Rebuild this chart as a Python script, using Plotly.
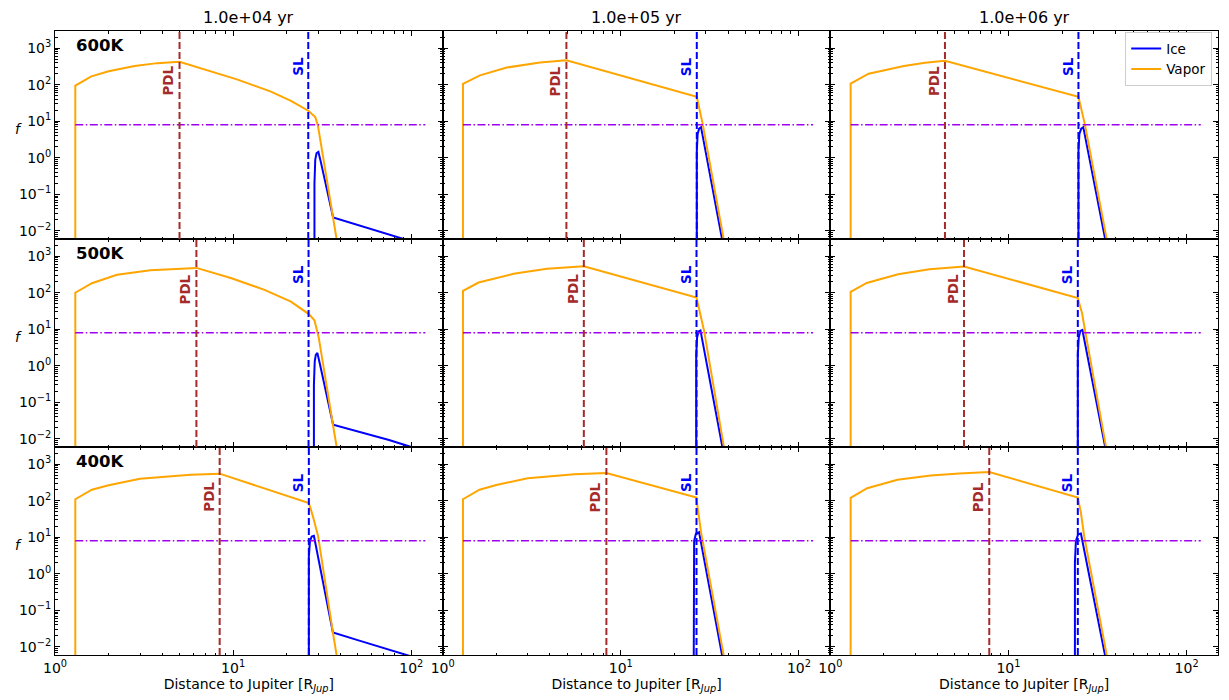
import numpy as np
import plotly.graph_objects as go
from plotly.subplots import make_subplots

# Panel labels
TEMPS = ["600K", "500K", "400K"]
TIMES = ["1.0e+04 yr", "1.0e+05 yr", "1.0e+06 yr"]

# Photodesorption line and snow line positions [R_Jup], rows = temperature, cols = time
PDL_R = [[5.0, 4.95, 4.4], [6.22, 6.2, 5.63], [8.4, 8.3, 7.8]]
SL_R = [[26.4, 26.7, 24.7], [26.5, 26.6, 24.5], [26.6, 26.6, 24.5]]

# Threshold line
F_CRIT = 8.0
CRIT_R = [1.3, 120]

# Vapor profiles
VAP_R_600K = [
    [1.3, 1.3, 1.6, 2.0, 2.8, 3.75, 5.0, 6.9, 10.6, 16.3, 21.1, 26.4, 28.9, 29.9, 36.4, 40],
    [1.3, 1.3, 1.62, 2.29, 3.52, 4.95, 26.7, 28.8, 40],
    [1.3, 1.3, 1.64, 2.59, 3.4, 4.4, 24.7, 26.8, 40],
]
VAP_F_600K = [
    [1e-4, 95, 170, 235, 325, 390, 425, 265, 138, 65, 36, 19.5, 13, 7.7, 0.022, 0.0014],
    [1e-4, 105, 180, 295, 405, 470, 47, 8.5, 0.0013],
    [1e-4, 107, 200, 325, 400, 450, 47, 8.5, 0.0003],
]
VAP_R_500K = [
    [1.3, 1.3, 1.61, 2.23, 3.43, 4.6, 6.22, 9.7, 15, 21.1, 26.6, 28.6, 30.2, 36.4, 40],
    [1.3, 1.3, 1.59, 2.5, 3.85, 6.2, 26.6, 28.0, 29.3, 40],
    [1.3, 1.3, 1.6, 2.4, 3.6, 5.63, 24.5, 25.9, 26.9, 40],
]
VAP_F_500K = [
    [1e-4, 100, 182, 310, 410, 450, 478, 252, 120, 57, 26, 17.7, 6.1, 0.023, 0.0015],
    [1e-4, 112, 190, 330, 455, 530, 74, 27, 9.3, 0.0013],
    [1e-4, 105, 185, 320, 440, 520, 72, 27, 9.3, 0.0002],
]
VAP_R_400K = [
    [1.3, 1.3, 1.61, 2.0, 3.0, 5.77, 8.4, 26.6, 28.0, 30.0, 36.3, 40],
    [1.3, 1.3, 1.61, 2.0, 3.0, 5.5, 8.3, 26.6, 27.0, 28.2, 40],
    [1.3, 1.3, 1.61, 2.38, 3.66, 5.3, 7.8, 24.5, 25.5, 26.6, 40],
]
VAP_F_400K = [
    [1e-4, 110, 200, 265, 400, 515, 550, 87, 38, 10.6, 0.025, 0.0014],
    [1e-4, 110, 200, 270, 410, 530, 570, 123, 65, 13.8, 0.0013],
    [1e-4, 120, 220, 375, 490, 560, 610, 123, 47, 10.7, 0.0003],
]

# Ice profiles
ICE_R_600K = [
    [28.6, 28.6, 28.9, 29.4, 30.1, 31.0, 36.4, 46, 65, 100],
    [26.7, 26.7, 27.0, 27.5, 28.2, 40],
    [24.7, 24.7, 25.0, 25.6, 26.3, 40],
]
ICE_F_600K = [
    [1e-4, 0.2, 0.9, 1.35, 1.45, 0.8, 0.0235, 0.0166, 0.0099, 0.0052],
    [1e-4, 1.5, 4.5, 6.3, 6.9, 0.0008],
    [1e-4, 1.5, 4.5, 6.3, 6.9, 0.0002],
]
ICE_R_500K = [
    [28.4, 28.4, 28.7, 29.1, 29.7, 30.6, 36.4, 52.5, 75, 100],
    [26.5, 26.5, 26.8, 27.3, 28.0, 40],
    [24.5, 24.5, 24.8, 25.3, 26.0, 40],
]
ICE_F_500K = [
    [1e-4, 0.3, 1.3, 2.0, 2.25, 1.2, 0.0244, 0.0148, 0.0094, 0.006],
    [1e-4, 2, 6, 8.7, 9.3, 0.0009],
    [1e-4, 2, 6, 9.0, 9.6, 0.0002],
]
ICE_R_400K = [
    [26.6, 26.6, 27.0, 27.6, 28.4, 36.3, 50, 70, 100],
    [25.6, 25.6, 25.8, 26.4, 27.5, 40],
    [23.6, 23.6, 23.9, 24.6, 25.5, 40],
]
ICE_F_400K = [
    [1e-4, 3, 8, 10.5, 11, 0.025, 0.0154, 0.0093, 0.0055],
    [1e-4, 2, 8, 12.5, 13.7, 0.0008],
    [1e-4, 2, 8, 12, 12.6, 0.0002],
]

VAP_R = [VAP_R_600K, VAP_R_500K, VAP_R_400K]
VAP_F = [VAP_F_600K, VAP_F_500K, VAP_F_400K]
ICE_R = [ICE_R_600K, ICE_R_500K, ICE_R_400K]
ICE_F = [ICE_F_600K, ICE_F_500K, ICE_F_400K]

FONT = "DejaVu Sans"

fig = make_subplots(rows=3, cols=3, horizontal_spacing=0, vertical_spacing=0)

for i, temp in enumerate(TEMPS):
    for j, tlabel in enumerate(TIMES):
        row, col = i + 1, j + 1
        first = (i == 0 and j == 0)

        # Ice and vapor curves
        fig.add_trace(
            go.Scatter(
                x=ICE_R[i][j], y=ICE_F[i][j], mode='lines',
                line=dict(color='#0000ff', width=2),
                name='Ice', legendgroup='ice', showlegend=first,
            ),
            row=row, col=col,
        )
        fig.add_trace(
            go.Scatter(
                x=VAP_R[i][j], y=VAP_F[i][j], mode='lines',
                line=dict(color='#ffa500', width=2),
                name='Vapor', legendgroup='vapor', showlegend=first,
            ),
            row=row, col=col,
        )
        # Threshold line
        fig.add_trace(
            go.Scatter(
                x=CRIT_R, y=[F_CRIT, F_CRIT], mode='lines',
                line=dict(color='#a000f0', width=1.5, dash='8px,2.5px,1.5px,2.5px'),
                showlegend=False, hoverinfo='skip',
            ),
            row=row, col=col,
        )

        # PDL and SL markers
        fig.add_vline(x=PDL_R[i][j], line=dict(color='#a52a2a', width=2, dash='7px,3px'),
                      row=row, col=col)
        fig.add_vline(x=SL_R[i][j], line=dict(color='#0000ff', width=2, dash='7px,3px'),
                      row=row, col=col)
        fig.add_annotation(
            text='<b>PDL</b>', x=np.log10(PDL_R[i][j]), y=2.1, textangle=-90,
            xshift=-11, showarrow=False,
            font=dict(family=FONT, size=13.5, color='#a52a2a'),
            row=row, col=col,
        )
        fig.add_annotation(
            text='<b>SL</b>', x=np.log10(SL_R[i][j]), y=2.5, textangle=-90,
            xshift=-10, showarrow=False,
            font=dict(family=FONT, size=13.5, color='#0000ff'),
            row=row, col=col,
        )

        if i == 0:
            fig.add_annotation(
                text=tlabel, xref='x domain', yref='y domain', x=0.5, y=1,
                yanchor='bottom', yshift=2, showarrow=False,
                font=dict(family=FONT, size=16, color='black'),
                row=row, col=col,
            )
        if j == 0:
            fig.add_annotation(
                text='<b>%s</b>' % temp, xref='x domain', yref='y domain',
                x=0.05, y=0.985, xanchor='left', yanchor='top', showarrow=False,
                font=dict(family=FONT, size=16.5, color='black'),
                row=row, col=col,
            )
            fig.add_annotation(
                text='<i>f</i>', xref='x domain', yref='y domain',
                x=-0.108, y=0.53, showarrow=False,
                font=dict(family=FONT, size=14, color='black'),
                row=row, col=col,
            )

# Axes
x_major = [1, 10, 100]
x_text = ['10<sup>0</sup>', '10<sup>1</sup>', '10<sup>2</sup>']
x_minor = [m * 10 ** e for e in range(0, 3) for m in range(2, 10)]
y_major = [1e-2, 1e-1, 1, 10, 100, 1000]
y_text = ['10<sup>\u22122</sup>', '10<sup>\u22121</sup>', '10<sup>0</sup>',
          '10<sup>1</sup>', '10<sup>2</sup>', '10<sup>3</sup>']
y_minor = [m * 10 ** e for e in range(-3, 4) for m in range(2, 10)]

fig.update_xaxes(
    type='log', range=[0, np.log10(150)], automargin=False,
    showline=True, linecolor='black', linewidth=1, mirror='allticks',
    ticks='inside', ticklen=5, tickcolor='black', tickwidth=1,
    tickvals=x_major, ticktext=x_text, showgrid=False, zeroline=False,
    minor=dict(ticks='inside', ticklen=2.5, tickcolor='black', tickvals=x_minor, showgrid=False),
    tickfont=dict(family=FONT, size=14, color='black'),
    showticklabels=False,
)
fig.update_yaxes(
    type='log', range=[-2.22, 3.47], automargin=False,
    showline=True, linecolor='black', linewidth=1, mirror='allticks',
    ticks='inside', ticklen=5, tickcolor='black', tickwidth=1,
    tickvals=y_major, ticktext=y_text, showgrid=False, zeroline=False,
    minor=dict(ticks='inside', ticklen=2.5, tickcolor='black', tickvals=y_minor, showgrid=False),
    tickfont=dict(family=FONT, size=14, color='black'),
    showticklabels=False,
)
for c in range(1, 4):
    fig.update_xaxes(
        showticklabels=True,
        title=dict(text='Distance to Jupiter [R<sub><i>Jup</i></sub>]', standoff=2,
                   font=dict(family=FONT, size=14, color='black')),
        row=3, col=c,
    )
for r in range(1, 4):
    fig.update_yaxes(showticklabels=True, row=r, col=1)

# page body adds an 8px offset, so the figure is sized to leave the plot area where it belongs
fig.update_layout(
    width=1221, height=692,
    margin=dict(l=47, r=11, t=23, b=45),
    plot_bgcolor='white', paper_bgcolor='white',
    font=dict(family=FONT, size=13, color='black'),
    legend=dict(
        x=0.995, y=0.998, xanchor='right', yanchor='top',
        bgcolor='white', bordercolor='#cccccc', borderwidth=1,
        font=dict(family=FONT, size=13.5, color='black'),
        tracegroupgap=0,
    ),
)

fig.write_html("out.html")
